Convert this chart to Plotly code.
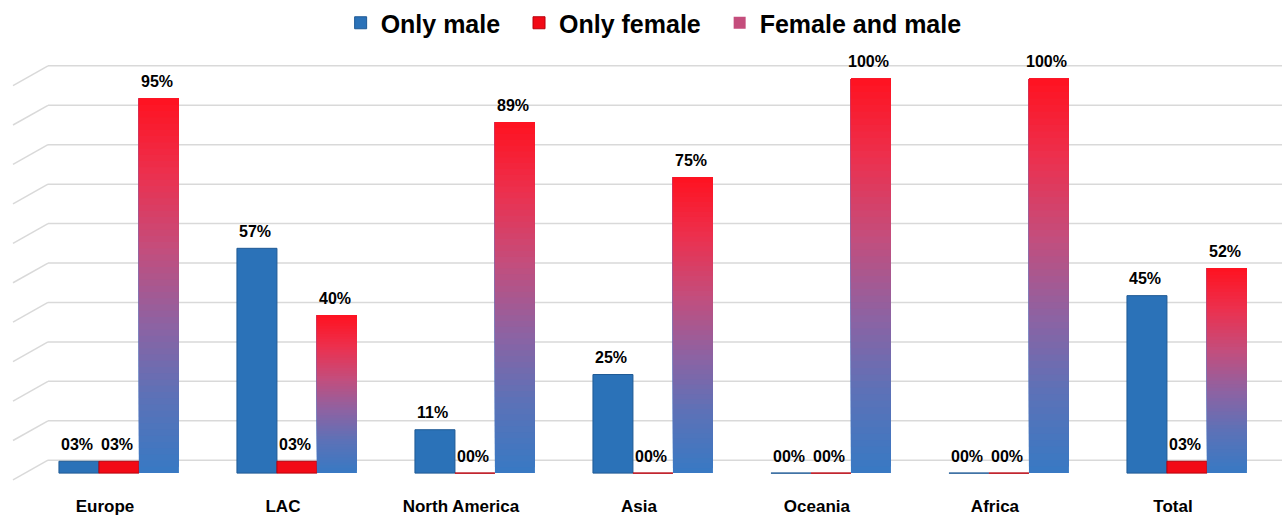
import plotly.graph_objects as go

# ---------------- data ----------------
categories = ["Europe", "LAC", "North America", "Asia", "Oceania", "Africa", "Total"]
only_male = [3, 57, 11, 25, 0, 0, 45]
only_female = [3, 3, 0, 0, 0, 0, 3]
female_and_male = [95, 40, 89, 75, 100, 100, 52]
series_names = ["Only male", "Only female", "Female and male"]
grid_values = list(range(0, 101, 10))

# ---------------- style ----------------
FONT = "Liberation Sans, Arial, sans-serif"
BLUE = "#2B72B8"
BLUE_EDGE = "#1F5A95"
RED = "#F20A16"
RED_EDGE = "#B8000C"
GRID = "#D9D9D9"
GRAD_STOPS = [(0.0, (56, 121, 195)), (0.2, (91, 114, 184)), (0.4, (142, 98, 162)),
              (0.6, (196, 77, 124)), (0.8, (236, 48, 78)), (1.0, (255, 18, 32))]
N_SEG = 60
BACK_OFFSET = 3.27     # back-wall gridlines drawn slightly above front
DIAG_DROP = 5.0
BAR_PX = 40            # pixel width of one bar in a group (for label offsets)
LABEL_SHIFTS = [-BAR_PX - 2, -2, BAR_PX - 2]
LABEL_LIFT = 17

def grad_color(f):
    for (f0, c0), (f1, c1) in zip(GRAD_STOPS[:-1], GRAD_STOPS[1:]):
        if f <= f1:
            t = (f - f0) / (f1 - f0)
            c = [round(a + (b - a) * t) for a, b in zip(c0, c1)]
            return "rgb({},{},{})".format(*c)
    return "rgb({},{},{})".format(*GRAD_STOPS[-1][1])

fig = go.Figure()

fig.add_trace(go.Bar(
    name=series_names[0] + "\u00a0\u00a0", x=categories, y=only_male,
    marker=dict(color=BLUE, line=dict(color=BLUE_EDGE, width=1)),
))
fig.add_trace(go.Bar(
    name=series_names[1] + "\u00a0\u00a0", x=categories, y=only_female,
    marker=dict(color=RED, line=dict(color=RED_EDGE, width=1)),
))

# gradient bars: overlapping segments from each level up to the bar top
seg_x, seg_base, seg_y, seg_col = [], [], [], []
seg_x.append(categories[0]); seg_base.append(0); seg_y.append(None)
seg_col.append(grad_color(0.6))   # legend swatch colour
for cat, v in zip(categories, female_and_male):
    for k in range(N_SEG):
        b = v * k / N_SEG
        seg_x.append(cat)
        seg_base.append(b)
        seg_y.append(v - b)
        seg_col.append(grad_color((k + 0.5) / N_SEG))

fig.add_trace(go.Bar(
    name=series_names[2], x=seg_x, y=seg_y, base=seg_base,
    marker=dict(color=seg_col, line=dict(width=0)),
    hoverinfo="skip",
))

# value labels above each bar
annotations = []
for series, shift in zip([only_male, only_female, female_and_male], LABEL_SHIFTS):
    for cat, v in zip(categories, series):
        annotations.append(dict(
            x=cat, y=v, xref="x", yref="y", text=f"{v:02d}%", showarrow=False,
            xshift=shift, yshift=LABEL_LIFT, yanchor="middle", xanchor="center",
            font=dict(family=FONT, size=16, color="black", weight="bold"),
        ))

# back-wall gridlines with perspective side wall
shapes = []
for g in grid_values:
    yb = g + BACK_OFFSET
    shapes.append(dict(type="line", xref="paper", yref="y", x0=38 / 1272, x1=1,
                       y0=yb, y1=yb, line=dict(color=GRID, width=1.5), layer="below"))
    shapes.append(dict(type="line", xref="paper", yref="y", x0=3 / 1272, x1=38 / 1272,
                       y0=yb - DIAG_DROP, y1=yb, line=dict(color=GRID, width=1.5), layer="below"))

fig.update_layout(
    width=1282, height=516,
    margin=dict(l=10, r=0, t=58, b=27),
    paper_bgcolor="white", plot_bgcolor="white",
    barmode="group", bargap=0.326, bargroupgap=0,
    font=dict(family=FONT, color="black"),
    showlegend=True,
    legend=dict(orientation="h", x=0.506, xanchor="center", y=1.089, yanchor="middle",
                font=dict(family=FONT, size=25, color="black", weight="bold"),
                traceorder="normal", bgcolor="rgba(0,0,0,0)"),
    xaxis=dict(type="category", range=[-0.612, 6.534], showgrid=False, zeroline=False,
               showline=False, ticks="", ticklabelshift=-14, ticklabelstandoff=5,
               tickfont=dict(family=FONT, size=17, color="black", weight="bold")),
    yaxis=dict(range=[-4.03, 104.5], showgrid=False, zeroline=False, showline=False,
               showticklabels=False),
    shapes=shapes,
    annotations=annotations,
)

fig.write_html("out.html")
